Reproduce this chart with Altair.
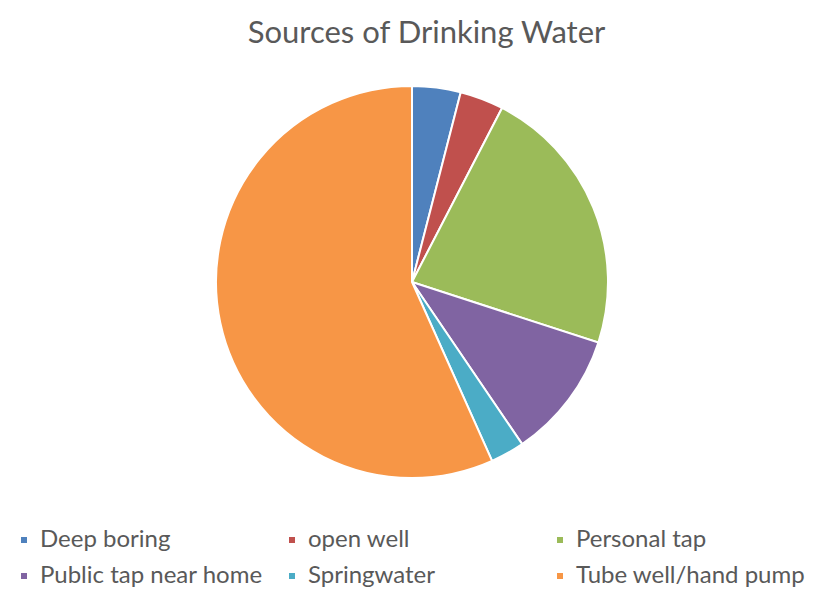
import altair as alt
import pandas as pd

categories = ["Deep boring", "open well", "Personal tap",
              "Public tap near home", "Springwater", "Tube well/hand pump"]
shares = [4.0, 3.6, 22.4, 10.5, 2.8, 56.7]
colors = ["#4F81BD", "#C0504D", "#9BBB59", "#8064A2", "#4BACC6", "#F79646"]

# legend fills column by column, so list the entries in that order
legend_order = ["Deep boring", "Public tap near home", "open well",
                "Springwater", "Personal tap", "Tube well/hand pump"]
legend_colors = [colors[categories.index(c)] for c in legend_order]

df = pd.DataFrame({"source": categories, "share": shares,
                   "idx": list(range(len(categories)))})

chart = alt.Chart(df).mark_arc(radius=196, stroke="white", strokeWidth=2).encode(
    theta=alt.Theta("share:Q", stack=True),
    color=alt.Color(
        "source:N",
        sort=legend_order,
        scale=alt.Scale(domain=legend_order, range=legend_colors),
        legend=alt.Legend(
            title=None, orient="none", legendX=4, legendY=460,
            columns=3, gridAlign="all", columnPadding=10, rowPadding=12,
            symbolType="square", symbolSize=36, symbolStrokeWidth=0,
            labelFont="Lato", labelFontSize=24, labelColor="#595959",
            labelOffset=4, padding=0, labelLimit=400,
        ),
    ),
    order=alt.Order("idx:Q"),
    x=alt.value(404),
    y=alt.value(214),
).properties(
    width=805,
    height=522,
    autosize=alt.AutoSizeParams(type="none"),
    padding={"top": 60, "left": 0, "right": 0, "bottom": 0},
    title=alt.TitleParams(
        "Sources of Drinking Water", font="Lato", fontSize=31,
        fontWeight="normal", color="#595959", anchor="middle",
        frame="group", offset=18, dx=16,
    ),
).configure_view(stroke=None)

chart.save("out.html", embed_options={"renderer": "svg", "actions": False})
